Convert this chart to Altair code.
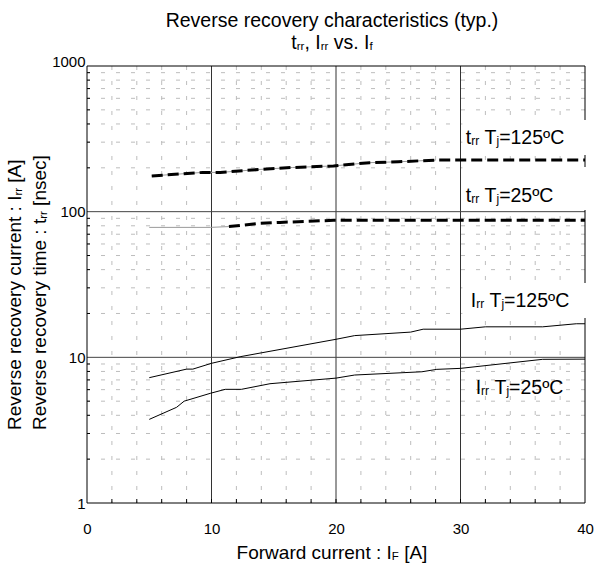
import altair as alt
import pandas as pd

FONT = "Liberation Sans"

# ---------------- data ----------------
irr125_if = [5, 8, 8.5, 10, 12.3, 20, 21.5, 26, 27, 30, 32, 36.6, 39.3, 40]
irr125_a = [7.25, 8.3, 8.3, 9.1, 10.1, 13.3, 14.1, 14.9, 15.6, 15.6, 16.2, 16.2, 17.0, 17.0]
irr25_if = [5, 7.2, 7.8, 9.9, 11.1, 12.4, 14.7, 20, 21.5, 26.9, 28.1, 30, 36.6, 40]
irr25_a = [3.75, 4.54, 5.0, 5.66, 6.03, 6.03, 6.59, 7.2, 7.56, 7.96, 8.27, 8.4, 9.69, 9.72]
trr125_if = [5.2, 9.3, 10.7, 13.9, 16.5, 19.8, 22.7, 25, 28, 40]
trr125_ns = [176, 186, 186, 195, 201, 206, 217, 220, 226, 226]
trr25_if = [5, 9.9, 11.4, 13.9, 15.5, 19.8, 40]
trr25_ns = [78, 78, 79, 83.2, 84.4, 87.2, 87.2]

x_tick_values = [0, 10, 20, 30, 40]
y_tick_values = [1, 10, 100, 1000]
x_major = [10, 20, 30]
x_minor = [2, 4, 6, 8, 12, 14, 16, 18, 22, 24, 26, 28, 32, 34, 36, 38]
x_small_ticks = [2, 4, 6, 8, 10, 12, 14, 16, 18, 20, 22, 24, 26, 28, 30, 32, 34, 36, 38]
y_major = [10, 100]
y_minor = [2, 3, 4, 5, 6, 7, 8, 9, 20, 30, 40, 50, 60, 70, 80, 90,
           200, 300, 400, 500, 600, 700, 800, 900]

# curve labels (anchor in data units)
label_if = [30.42, 30.42, 30.82, 31.22]
label_val = [290, 117, 22.1, 5.58]
label_lead = ["t", "t", "I", "I"]
label_tail = ["=125ºC", "=25ºC", "=125ºC", "=25ºC"]
# white backgrounds behind the first three labels (data units)
box_if_from = [30.15, 30.15, 30.15]
box_if_to = [41, 41, 41]
box_val_lo = [244.9, 102.7, 18.6]
box_val_hi = [425.6, 202.6, 32.4]

W, H = 498, 437

# ---------------- helpers ----------------
CW = {' ': 278, '(': 333, ')': 333, ',': 278, '.': 278, ':': 278, '=': 584,
      '[': 278, ']': 278, 'A': 667, 'C': 722, 'F': 611, 'I': 278, 'R': 722,
      'T': 611, 'a': 556, 'c': 500, 'd': 556, 'e': 556, 'f': 278, 'h': 556,
      'i': 222, 'j': 222, 'l': 222, 'm': 833, 'n': 556, 'o': 556, 'p': 556,
      'r': 333, 's': 500, 't': 278, 'u': 556, 'v': 500, 'w': 722, 'y': 500,
      'º': 365}
for d in "0123456789":
    CW[d] = 556


def tw(s, size):
    return sum(CW.get(c, 556) for c in s) * size / 1000.0


def split_lead(t):
    """Leading spaces are collapsed by SVG: return (visible text, lead width chars)."""
    s = t.lstrip(" ")
    return s, t[: len(t) - len(s)]


one = pd.DataFrame({"k": [0]})

xs = alt.Scale(domain=[0, 40], nice=False, zero=False)
ys = alt.Scale(type="log", domain=[1, 1000], nice=False)
xaxis = alt.Axis(values=x_tick_values, title=None, grid=False, domain=False,
                 ticks=False, tickSize=0, labelFontSize=15, labelFont=FONT,
                 labelColor="black", labelPadding=30, labelBaseline="alphabetic",
                 labelFlush=False, labelAngle=0)
yaxis = alt.Axis(values=y_tick_values, title=None, grid=False, domain=False,
                 ticks=False, tickSize=0, labelFontSize=15, labelFont=FONT,
                 labelColor="black", labelPadding=2, format="d", labelFlush=False,
                 labelBaseline=alt.condition("datum.value >= 1000",
                                             alt.value("alphabetic"),
                                             alt.value("middle")))


def X(f):
    return alt.X(f, type="quantitative", scale=xs, axis=xaxis)


def Y(f):
    return alt.Y(f, type="quantitative", scale=ys, axis=yaxis)


SUB_DY = 1


def rich_pixel(segs, x, y, size, sub, center=True, angle=0):
    total = sum(tw(t, sub if s else size) for t, s in segs)
    off = -total / 2 if center else 0
    out = []
    for t, s in segs:
        fs = sub if s else size
        vis, lead = split_lead(t)
        o = off + tw(lead, fs)
        if angle == 0:
            px, py = x + o, y + (SUB_DY if s else 0)
        else:
            px, py = x + (SUB_DY if s else 0), y - o
        out.append(alt.Chart(one).mark_text(
            text=vis, font=FONT, fontSize=fs, align="left", baseline="alphabetic",
            color="black", angle=angle).encode(x=alt.value(px), y=alt.value(py)))
        off += tw(t, fs)
    return out


layers = []

# minor grid
layers.append(alt.Chart(pd.DataFrame({"x": x_minor})).mark_rule(
    color="#bdbdbd", strokeWidth=1, strokeDash=[4, 11]).encode(x=X("x")))
layers.append(alt.Chart(pd.DataFrame({"y": y_minor})).mark_rule(
    color="#bdbdbd", strokeWidth=1, strokeDash=[4, 11]).encode(y=Y("y")))
# major grid
layers.append(alt.Chart(pd.DataFrame({"x": x_major})).mark_rule(
    color="#333333", strokeWidth=1).encode(x=X("x")))
layers.append(alt.Chart(pd.DataFrame({"y": y_major})).mark_rule(
    color="#444444", strokeWidth=1).encode(y=Y("y")))
# inward small ticks
layers.append(alt.Chart(pd.DataFrame({"x": x_small_ticks})).mark_rule(
    color="black", strokeWidth=1).encode(x=X("x"), y=alt.value(H), y2=alt.value(H - 4)))
layers.append(alt.Chart(pd.DataFrame({"y": y_minor})).mark_rule(
    color="black", strokeWidth=1).encode(y=Y("y"), x=alt.value(0), x2=alt.value(3)))
# frame
for enc in [dict(x=alt.value(0), x2=alt.value(W), y=alt.value(0)),
            dict(x=alt.value(0), x2=alt.value(W), y=alt.value(H)),
            dict(x=alt.value(0), y=alt.value(0), y2=alt.value(H)),
            dict(x=alt.value(W), y=alt.value(0), y2=alt.value(H))]:
    layers.append(alt.Chart(one).mark_rule(color="black", strokeWidth=1).encode(**enc))

# label backgrounds
boxes = pd.DataFrame({"a": box_if_from, "b": box_if_to, "c": box_val_lo, "d": box_val_hi})
layers.append(alt.Chart(boxes).mark_rect(color="white").encode(
    x=X("a"), x2="b", y=Y("c"), y2="d"))

# curves
t125 = pd.DataFrame({"x": trr125_if, "y": trr125_ns})
t25 = pd.DataFrame({"x": trr25_if, "y": trr25_ns})
layers.append(alt.Chart(t125[t125["x"] <= 28]).mark_line(
    color="#9a9a9a", strokeWidth=1).encode(x=X("x"), y=Y("y")))
layers.append(alt.Chart(t25[t25["x"] <= 11.4]).mark_line(
    color="#9a9a9a", strokeWidth=1).encode(x=X("x"), y=Y("y")))
layers.append(alt.Chart(t125).mark_line(
    color="black", strokeWidth=3, strokeDash=[11, 5], strokeCap="butt").encode(x=X("x"), y=Y("y")))
layers.append(alt.Chart(t25[t25["x"] >= 11.4]).mark_line(
    color="black", strokeWidth=3, strokeDash=[11, 5], strokeCap="butt").encode(x=X("x"), y=Y("y")))
layers.append(alt.Chart(pd.DataFrame({"x": irr125_if, "y": irr125_a})).mark_line(
    color="black", strokeWidth=1).encode(x=X("x"), y=Y("y")))
layers.append(alt.Chart(pd.DataFrame({"x": irr25_if, "y": irr25_a})).mark_line(
    color="black", strokeWidth=1).encode(x=X("x"), y=Y("y")))

# curve labels, with subscripts
LS, LSUB = 19.5, 12
for i in range(len(label_if)):
    df = pd.DataFrame({"lx": [label_if[i]], "ly": [label_val[i]]})
    segs = [(label_lead[i], False), ("rr", True), (" T", False), ("j", True), (label_tail[i], False)]
    off = 0
    for t, s in segs:
        fs = LSUB if s else LS
        vis, lead = split_lead(t)
        layers.append(alt.Chart(df).mark_text(
            text=vis, font=FONT, fontSize=fs, align="left", baseline="alphabetic",
            color="black", dx=off + tw(lead, fs), dy=(SUB_DY if s else 0)).encode(
                x=X("lx"), y=Y("ly")))
        off += tw(t, fs)

# titles
layers += rich_pixel([("Reverse recovery characteristics (typ.)", False)], 245, -39, 19.5, 11.5)
layers += rich_pixel([("t", False), ("rr", True), (", I", False), ("rr", True),
                      (" vs. I", False), ("f", True)], 245, -17, 19.5, 11.5)
layers += rich_pixel([("Forward current : I", False), ("F", True), (" [A]", False)],
                     245, 493, 19, 11.5)
layers += rich_pixel([("Reverse recovery current : I", False), ("rr", True), (" [A]", False)],
                     -66.3, 364, 19, 11.5, center=False, angle=270)
layers += rich_pixel([("Reverse recovery time : t", False), ("rr", True), (" [nsec]", False)],
                     -41.3, 364, 19, 11.5, center=False, angle=270)

chart = alt.layer(*layers).properties(
    width=W, height=H,
    autosize=alt.AutoSizeParams(type="none"),
    padding={"left": 87, "top": 66, "right": 12, "bottom": 65},
    background="white",
).configure_view(stroke=None)

chart.save("out.html", embed_options={"renderer": "svg", "actions": False})
